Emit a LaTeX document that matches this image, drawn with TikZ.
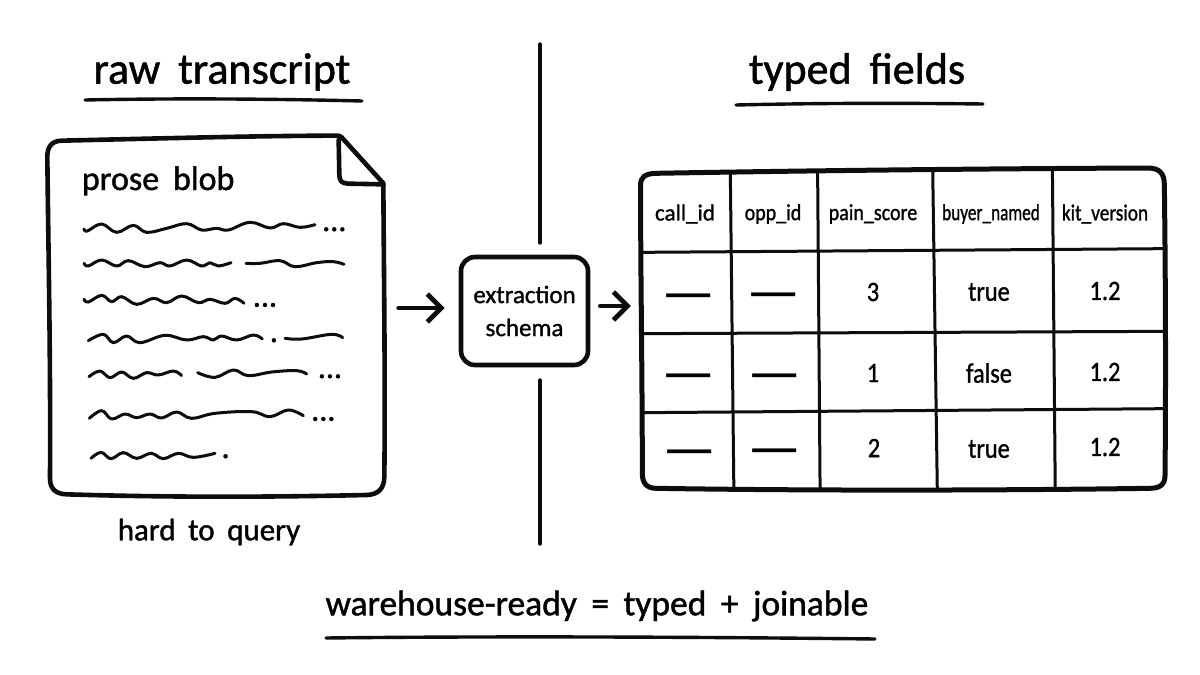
\documentclass[tikz,border=0pt]{standalone}
\usepackage{fontspec}
\usepackage{graphicx}
\setmainfont[WordSpace=1.8,FakeBold=1.2]{Carlito}
\newfontfamily\plainface{Carlito}
\usetikzlibrary{arrows.meta}
\newcommand{\sx}[2]{\scalebox{#1}[1]{#2}}
\tikzset{
  ink/.style={draw=black!95,line cap=round,line join=round},
  heavy/.style={ink,line width=4.6pt},
  rule/.style={ink,line width=3.4pt},
  grid/.style={ink,line width=3pt},
  wave/.style={ink,line width=3pt,smooth,tension=.65},
  arrowline/.style={ink,line width=4.8pt,-{Straight Barb[length=14pt,width=28pt,line width=4.8pt]}},
  title/.style={inner sep=0pt,font=\fontsize{44}{48}\selectfont},
  body/.style={inner sep=0pt,font=\fontsize{31}{35}\selectfont},
  head/.style={inner sep=0pt,font=\fontsize{23}{25}\selectfont},
  cell/.style={inner sep=0pt,font=\fontsize{28}{30}\selectfont},
  dashcell/.style={inner sep=0pt,font=\plainface\fontsize{60}{62}\selectfont},
  dots/.style={inner sep=0pt,anchor=base west,font=\fontsize{32}{34}\selectfont},
  blank/.style={inner sep=0pt,draw=none},
}
\begin{document}
\begin{tikzpicture}[x=1pt,y=-1pt]
\useasboundingbox (0,0) rectangle (1200,675);
\fill[white] (0,0) rectangle (1200,675);

% headings
\node[title] (rawtitle) at (222,72) {raw transcript};
\draw[rule] (85,100) .. controls (180,98) and (280,99) .. (362,101);
\node[title] (typedtitle) at (857,72) {typed fields};
\draw[rule] (736,105) .. controls (820,103) and (900,103) .. (983,104);

% divider
\draw[rule] (540,44) -- (540,243);
\draw[rule] (540,380) -- (540,544);

% document
\node[blank,minimum width=337pt,minimum height=10pt] (sheet) at (216.5,308) {};
\begin{scope}[shift={(30,120)},x=0.33333pt,y=-0.33333pt]
\draw[heavy] (920,47) .. controls (700,47) and (400,55) .. (95,62)
  .. controls (65,63) and (52,80) .. (52,110)
  .. controls (55,400) and (62,700) .. (60,1075)
  .. controls (60,1105) and (75,1122) .. (110,1123)
  .. controls (400,1132) and (700,1132) .. (1010,1125)
  .. controls (1045,1124) and (1063,1105) .. (1063,1070)
  .. controls (1066,800) and (1062,500) .. (1060,190)
  -- (935,52) .. controls (930,47) and (925,47) .. (920,47) -- cycle;
\draw[heavy] (926,60) -- (928,165) .. controls (928,183) and (935,190) .. (955,191) -- (1060,193);
\node[anchor=base west,inner sep=0pt,font=\fontsize{34}{38}\selectfont] (blob) at (155,210) {prose blob};
\end{scope}
\begin{scope}[shift={(70,210)},x=0.33333pt,y=-0.33333pt]
\draw[wave] plot coordinates {(42,57)(52,63)(95,42)(140,67)(190,46)(230,67)(290,55)(350,41)(395,60)(440,55)(475,60)(540,37)(600,54)(640,41)(690,52)(735,44)};
\node[dots] (d1) at (756,63) {...};
\draw[wave] plot coordinates {(42,160)(55,168)(95,150)(140,168)(175,152)(225,170)(270,158)(300,168)(350,150)(395,168)(420,158)(445,168)(483,158)};
\draw[wave] plot coordinates {(528,160)(570,160)(630,152)(675,170)(740,158)(790,155)(822,163)};
\draw[wave] plot coordinates {(42,268)(55,276)(95,256)(125,275)(155,260)(200,283)(250,265)(290,278)(335,258)(385,278)(420,268)(465,280)(495,265)(522,280)};
\node[dots] (d2) at (548,290) {...};
\end{scope}
\begin{scope}[shift={(75,320)},x=0.33333pt,y=-0.33333pt]
\draw[wave] plot coordinates {(40,62)(85,43)(115,68)(155,48)(195,68)(270,46)(335,60)(385,50)(415,60)(440,48)(485,60)(535,45)(562,57)};
\node[dots] (d3) at (584,66) {.};
\draw[wave] plot coordinates {(630,55)(680,57)(770,43)(803,53)};
\draw[wave] plot coordinates {(42,170)(75,153)(105,173)(140,156)(175,175)(215,158)(250,165)(295,153)(320,167)};
\draw[wave] plot coordinates {(368,158)(420,172)(475,150)(520,167)(590,156)(665,152)(695,162)};
\node[dots] (d4) at (728,174) {...};
\draw[wave] plot coordinates {(43,295)(80,272)(110,297)(150,282)(185,293)(225,282)(260,294)(305,276)(350,295)(420,280)(530,275)(585,290)(640,270)(685,287)};
\node[dots] (d5) at (708,302) {...};
\draw[wave] plot coordinates {(48,415)(78,397)(108,416)(145,398)(185,415)(228,400)(265,416)(310,400)(355,412)(420,400)};
\node[dots] (d6) at (439,414) {.};
\end{scope}
\node[body] (hard) at (209,532) {hard to query};

% schema
\node[heavy,rounded corners=14pt,minimum width=127pt,minimum height=108pt,align=center,inner sep=0pt,
  font=\fontsize{25}{33}\selectfont] (schema) at (524.5,311) {extraction\\schema};

% table
\node[blank,minimum width=524pt,minimum height=10pt] (tbl) at (902,306) {};
\begin{scope}[shift={(630,160)},x=0.352pt,y=-0.33333pt]
\draw[heavy,line width=5pt] (70,40) .. controls (500,32) and (1000,26) .. (1470,24)
  .. controls (1505,24) and (1518,40) .. (1518,75)
  .. controls (1522,400) and (1522,700) .. (1520,945)
  .. controls (1520,975) and (1505,985) .. (1475,985)
  .. controls (1000,992) and (500,992) .. (75,985)
  .. controls (48,985) and (35,970) .. (35,940)
  .. controls (35,650) and (30,350) .. (30,75)
  .. controls (30,52) and (42,42) .. (70,40) -- cycle;
\draw[grid] (285,38) -- (295,985);
\draw[grid] (533,35) -- (540,988);
\draw[grid] (860,32) -- (873,990);
\draw[grid] (1200,28) -- (1208,985);
\draw[grid] (35,277) -- (1518,266);
\draw[grid] (37,521) -- (1520,514);
\draw[grid] (37,758) -- (1520,746);
\end{scope}
\node[head] (ha) at (685,214) {\sx{1.0}{call\_id}};
\node[head] (hb) at (773,214) {\sx{.87}{opp\_id}};
\node[head] (hc) at (873,214) {\sx{.87}{pain\_score}};
\node[head] (hd) at (991,214) {\sx{.75}{buyer\_named}};
\node[head] (he) at (1105,214) {\sx{.84}{kit\_version}};
\node[dashcell] (r1a) at (689,303) {—};
\node[dashcell] (r1b) at (774,302) {—};
\node[cell] (r1c) at (873,292) {\sx{.87}{3}};
\node[cell] (r1d) at (989,292) {\sx{.87}{true}};
\node[cell] (r1e) at (1105,291) {\sx{.87}{1.2}};
\node[dashcell] (r2a) at (689,383) {—};
\node[dashcell] (r2b) at (775,383) {—};
\node[cell] (r2c) at (873,373) {\sx{.87}{1}};
\node[cell] (r2d) at (989,373) {\sx{.87}{false}};
\node[cell] (r2e) at (1105,372) {\sx{.87}{1.2}};
\node[dashcell] (r3a) at (690,459) {—};
\node[dashcell] (r3b) at (775,458) {—};
\node[cell] (r3c) at (874,448) {\sx{.87}{2}};
\node[cell] (r3d) at (989,449) {\sx{.87}{true}};
\node[cell] (r3e) at (1105,447) {\sx{.87}{1.2}};

% connectors
\draw[arrowline,shorten <=13.5pt,shorten >=14pt] (sheet.east) -- (schema.west |- sheet.east);
\draw[arrowline,shorten <=10pt,shorten >=9pt] (schema.east |- tbl.west) -- (tbl.west);

% footer
\node[inner sep=0pt,font=\fontsize{35.5}{40}\selectfont] (foot) at (597,606) {warehouse-ready = typed + joinable};
\draw[rule] (326,638) .. controls (500,636) and (700,637) .. (875,639);
\end{tikzpicture}
\end{document}
